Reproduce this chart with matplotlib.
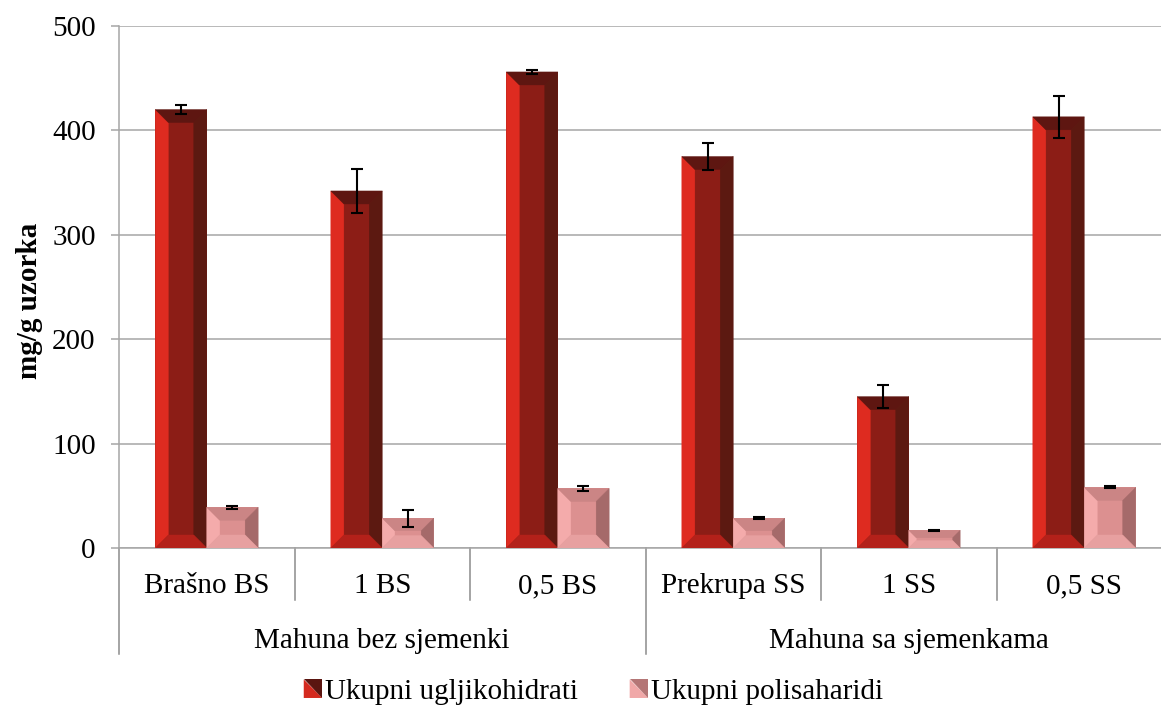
import matplotlib
matplotlib.use("Agg")
import matplotlib.pyplot as plt
import matplotlib.transforms as mtransforms
from matplotlib.patches import Polygon, Patch
from matplotlib.legend_handler import HandlerBase
import numpy as np

# ---------------- data ----------------
categories = ["Brašno BS", "1 BS", "0,5 BS", "Prekrupa SS", "1 SS", "0,5 SS"]
groups = ["Mahuna bez sjemenki", "Mahuna sa sjemenkama"]
group_sizes = [3, 3]
series_names = ["Ukupni ugljikohidrati", "Ukupni polisaharidi"]
carbs = [420, 342, 456, 375, 145, 413]
carbs_err = [4.5, 21, 1.5, 13, 11, 20]
polys = [39, 28.5, 57, 28.5, 17, 58]
polys_err = [1.5, 8.3, 2, 1, 0.7, 1]
yticks = [0, 100, 200, 300, 400, 500]

# ---------------- style ----------------
plt.rcParams['font.family'] = ['Liberation Serif', 'DejaVu Serif']
FS = 21
GRAY = '#A6A6A6'
SEP = '#8C8C8C'
red_cols = dict(center='#8C1D16', left='#DE2B20', top='#5E1611',
                right='#5C1911', bottom='#B3211A')
pink_cols = dict(center='#DC9090', left='#F4ABAB', top='#CB8585',
                 right='#A56A6A', bottom='#E7A0A0')

W, H = 1161, 708
fig = plt.figure(figsize=(W / 100, H / 100), dpi=100)
ax_left, ax_right, ax_bottom, ax_top = 119, 1172, 548, 26
ax = fig.add_axes([ax_left / W, 1 - ax_bottom / H,
                   (ax_right - ax_left) / W, (ax_bottom - ax_top) / H])

n = len(categories)
x = np.arange(n)
bw = 0.293
ax.set_xlim(-0.5, n - 0.5)
ax.set_ylim(0, 500)

bars_r = ax.bar(x - bw / 2, carbs, bw, color=red_cols['center'], zorder=2, linewidth=0)
bars_p = ax.bar(x + bw / 2, polys, bw, color=pink_cols['center'], zorder=2, linewidth=0)

# bevel polygons derived from the bar geometry
px_x = (n) / (ax_right - ax_left)      # data units per pixel in x
px_y = 500 / (ax_bottom - ax_top)       # data units per pixel in y
BEV = 13


def bevel(bar, cols):
    x0 = bar.get_x(); x1 = x0 + bar.get_width()
    y0 = bar.get_y(); y1 = y0 + bar.get_height()
    hpx = (y1 - y0) / px_y
    b = min(BEV, 0.42 * hpx)
    bx, by = b * px_x, b * px_y
    OBL, OBR, OTR, OTL = (x0, y0), (x1, y0), (x1, y1), (x0, y1)
    IBL, IBR, ITR, ITL = (x0 + bx, y0 + by), (x1 - bx, y0 + by), (x1 - bx, y1 - by), (x0 + bx, y1 - by)
    faces = [([OBL, OTL, ITL, IBL], cols['left']),
             ([OTL, OTR, ITR, ITL], cols['top']),
             ([OTR, OBR, IBR, ITR], cols['right']),
             ([OBR, OBL, IBL, IBR], cols['bottom'])]
    for pts, c in faces:
        ax.add_patch(Polygon(pts, closed=True, facecolor=c, edgecolor=c,
                             linewidth=0.3, zorder=3))


for b in bars_r:
    bevel(b, red_cols)
for b in bars_p:
    bevel(b, pink_cols)

ax.errorbar(x - bw / 2, carbs, yerr=carbs_err, fmt='none', ecolor='black',
            elinewidth=1.5, capsize=4.5, capthick=1.5, zorder=5)
ax.errorbar(x + bw / 2, polys, yerr=polys_err, fmt='none', ecolor='black',
            elinewidth=1.5, capsize=4.5, capthick=1.5, zorder=5)

# axes styling
ax.set_yticks(yticks)
ax.set_yticklabels([str(v) for v in yticks], fontsize=FS)
ax.tick_params(axis='y', length=5.8, width=1.1, color=GRAY, pad=11)
ax.set_xticks([])
ax.yaxis.grid(True, color=GRAY, linewidth=1.1, zorder=0)
ax.set_axisbelow(True)
for s in ['top', 'right']:
    ax.spines[s].set_visible(False)
for s in ['left', 'bottom']:
    ax.spines[s].set_color(GRAY)
    ax.spines[s].set_linewidth(1.1)

# two-level category axis
tr = mtransforms.blended_transform_factory(ax.transData, fig.transFigure)
for i, c in enumerate(categories):
    ax.text(i, 1 - 593 / H, c, transform=tr, ha='center', va='baseline', fontsize=FS)
start = 0
for g, sz in zip(groups, group_sizes):
    ax.text(start + (sz - 1) / 2, 1 - 648 / H, g, transform=tr, ha='center',
            va='baseline', fontsize=FS)
    start += sz
group_edges = set(np.cumsum([0] + group_sizes) - 0.5)
for e in np.arange(-0.5, n, 1.0):
    ybot = 1 - 654 / H if e in group_edges else 1 - 600 / H
    ax.plot([e, e], [1 - ax_bottom / H, ybot], transform=tr, color=SEP,
            linewidth=1.1, clip_on=False, zorder=1)

fig.text(30 / W, 1 - 301 / H, "mg/g uzorka", rotation=90, ha='center', va='center',
         fontsize=FS, fontweight='bold')


# legend with diagonal-split squares
class DiagHandler(HandlerBase):
    def __init__(self, c_bl, c_tr):
        super().__init__()
        self.c_bl, self.c_tr = c_bl, c_tr

    def create_artists(self, legend, orig_handle, xdescent, ydescent, width,
                       height, fontsize, trans):
        s = height
        x0 = -xdescent + (width - s)
        y0 = -ydescent
        t1 = Polygon([[x0, y0], [x0 + s, y0], [x0, y0 + s]], closed=True,
                     facecolor=self.c_bl, edgecolor='none', transform=trans)
        t2 = Polygon([[x0 + s, y0], [x0 + s, y0 + s], [x0, y0 + s]], closed=True,
                     facecolor=self.c_tr, edgecolor='none', transform=trans)
        return [t1, t2]


h1 = Patch(label=series_names[0])
h2 = Patch(label=series_names[1])
fig.legend(handles=[h1, h2], labels=series_names, loc='center',
           bbox_to_anchor=(594 / W, 1 - 692 / H), ncol=2, frameon=False,
           fontsize=FS, handlelength=0.6, handleheight=0.6, handletextpad=0.1,
           columnspacing=1.8,
           handler_map={h1: DiagHandler('#D42A1F', '#5A1510'),
                        h2: DiagHandler('#F0A8A8', '#B47676')})

fig.savefig("out.png", dpi=100)
